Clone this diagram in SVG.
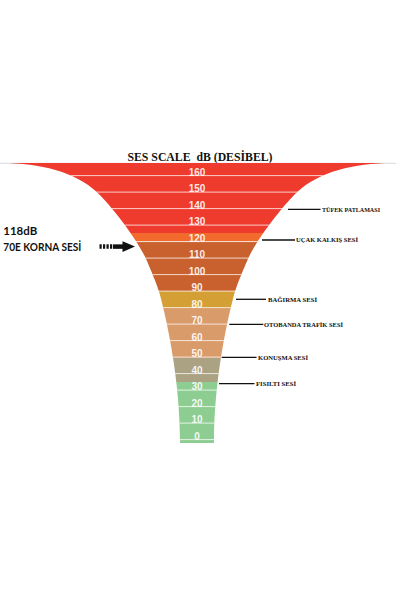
<svg xmlns="http://www.w3.org/2000/svg" width="400" height="600" viewBox="0 0 400 600">
<style>
.num{font-family:"Liberation Sans",Arial,sans-serif;font-weight:bold;font-size:10px;fill:#ffffff;fill-opacity:0.9;text-anchor:middle}
.sep{stroke:#ffffff;stroke-opacity:0.75;stroke-width:1}
.ann{font-family:"Liberation Serif","Times New Roman",serif;font-weight:bold;font-size:6.6px;fill:#111}
.lead{stroke:#111;stroke-width:1.3}
.big{font-family:Lato,"Liberation Sans",sans-serif;font-weight:bold;font-size:12px;fill:#111}
</style>
<defs>
<clipPath id="funnelClip">
<path id="funnelPath" d="M2,163 C40,163 75,172 96.5,191.7 C110,204 138,240 146.5,260 C150.5,269.5 157,284 160,295 C167,321 180,380 180,443 L214,443 C214,380 227,321 234,295 C237,284 243.5,269.5 247.5,260 C256,240 284,204 297.5,191.7 C319,172 354,163 392,163 Z"/>
</clipPath>
</defs>
<rect width="400" height="600" fill="#ffffff"/>
<g id="title">
<text x="200" y="160.5" text-anchor="middle" style="white-space:pre" font-family="Liberation Serif,'Times New Roman',serif" font-weight="bold" font-size="11.8" fill="#111" textLength="145" lengthAdjust="spacingAndGlyphs">SES SCALE  dB (DESİBEL)</text>
</g>
<line x1="0" y1="163.3" x2="396" y2="163.3" stroke="#cfcfcf" stroke-width="0.8"/>
<g id="funnel" clip-path="url(#funnelClip)">
<rect x="0" y="162" width="400" height="71" fill="#ef3a2e"/>
<rect x="0" y="233" width="400" height="8.5" fill="#f26a2c"/>
<rect x="0" y="241.5" width="400" height="49.5" fill="#c9612f"/>
<rect x="0" y="291" width="400" height="17" fill="#d49f34"/>
<rect x="0" y="308" width="400" height="50" fill="#da9b6a"/>
<rect x="0" y="358" width="400" height="24" fill="#aba283"/>
<rect x="0" y="382" width="400" height="62" fill="#8ecd92"/>
<g class="sep">
<line x1="0" y1="175.6" x2="400" y2="175.6"/>
<line x1="0" y1="192.1" x2="400" y2="192.1"/>
<line x1="0" y1="208.6" x2="400" y2="208.6"/>
<line x1="0" y1="225.1" x2="400" y2="225.1"/>
<line x1="0" y1="241.6" x2="400" y2="241.6"/>
<line x1="0" y1="258.1" x2="400" y2="258.1"/>
<line x1="0" y1="274.6" x2="400" y2="274.6"/>
<line x1="0" y1="291.1" x2="400" y2="291.1"/>
<line x1="0" y1="307.6" x2="400" y2="307.6"/>
<line x1="0" y1="324.1" x2="400" y2="324.1"/>
<line x1="0" y1="340.6" x2="400" y2="340.6"/>
<line x1="0" y1="357.1" x2="400" y2="357.1"/>
<line x1="0" y1="373.6" x2="400" y2="373.6"/>
<line x1="0" y1="390.1" x2="400" y2="390.1"/>
<line x1="0" y1="406.6" x2="400" y2="406.6"/>
<line x1="0" y1="423.1" x2="400" y2="423.1"/>
<line x1="0" y1="439.6" x2="400" y2="439.6"/>
</g>
</g>
<g id="scale-labels">
<text class="num" x="197" y="175.6">160</text>
<text class="num" x="197" y="192.1">150</text>
<text class="num" x="197" y="208.6">140</text>
<text class="num" x="197" y="225.1">130</text>
<text class="num" x="197" y="241.6">120</text>
<text class="num" x="197" y="258.1">110</text>
<text class="num" x="197" y="274.6">100</text>
<text class="num" x="197" y="291.1">90</text>
<text class="num" x="197" y="307.6">80</text>
<text class="num" x="197" y="324.1">70</text>
<text class="num" x="197" y="340.6">60</text>
<text class="num" x="197" y="357.1">50</text>
<text class="num" x="197" y="373.6">40</text>
<text class="num" x="197" y="390.1">30</text>
<text class="num" x="197" y="406.6">20</text>
<text class="num" x="197" y="423.1">10</text>
<text class="num" x="197" y="439.6">0</text>
</g>
<g id="korna-label">
<text class="big" x="3.3" y="235" textLength="34" lengthAdjust="spacingAndGlyphs">118dB</text>
<text class="big" x="3.3" y="250.5" textLength="78" lengthAdjust="spacingAndGlyphs">70E KORNA SESİ</text>
</g>
<g id="ann-tufek"><text class="ann" x="322" y="211.6" textLength="58" lengthAdjust="spacingAndGlyphs">TÜFEK PATLAMASI</text></g>
<g id="ann-ucak"><text class="ann" x="296" y="242.3" textLength="62" lengthAdjust="spacingAndGlyphs">UÇAK KALKIŞ SESİ</text></g>
<g id="ann-bagirma"><text class="ann" x="268" y="301.6" textLength="49" lengthAdjust="spacingAndGlyphs">BAĞIRMA SESİ</text></g>
<g id="ann-otoban"><text class="ann" x="264" y="326.6" textLength="79" lengthAdjust="spacingAndGlyphs">OTOBANDA TRAFİK SESİ</text></g>
<g id="ann-konusma"><text class="ann" x="258" y="359.6" textLength="50" lengthAdjust="spacingAndGlyphs">KONUŞMA SESİ</text></g>
<g id="ann-fisilti"><text class="ann" x="256" y="386" textLength="40" lengthAdjust="spacingAndGlyphs">FISILTI SESİ</text></g>
<g id="connectors">
<line class="lead" x1="288" y1="209.3" x2="320.5" y2="209.3"/>
<line class="lead" x1="262" y1="240" x2="295" y2="240"/>
<line class="lead" x1="236" y1="299.3" x2="266" y2="299.3"/>
<line class="lead" x1="229.3" y1="324.3" x2="263.3" y2="324.3"/>
<line class="lead" x1="221.7" y1="357.3" x2="256.5" y2="357.3"/>
<line class="lead" x1="219" y1="383.7" x2="254.5" y2="383.7"/>
<line x1="99.5" y1="246.6" x2="113" y2="246.6" stroke="#111" stroke-width="4.5" stroke-dasharray="2.2 1.3"/>
<line x1="113" y1="246.6" x2="124" y2="246.6" stroke="#111" stroke-width="4.5"/>
<polygon points="122.5,241.3 135,246.6 122.5,251.9" fill="#111"/>
</g>
</svg>
